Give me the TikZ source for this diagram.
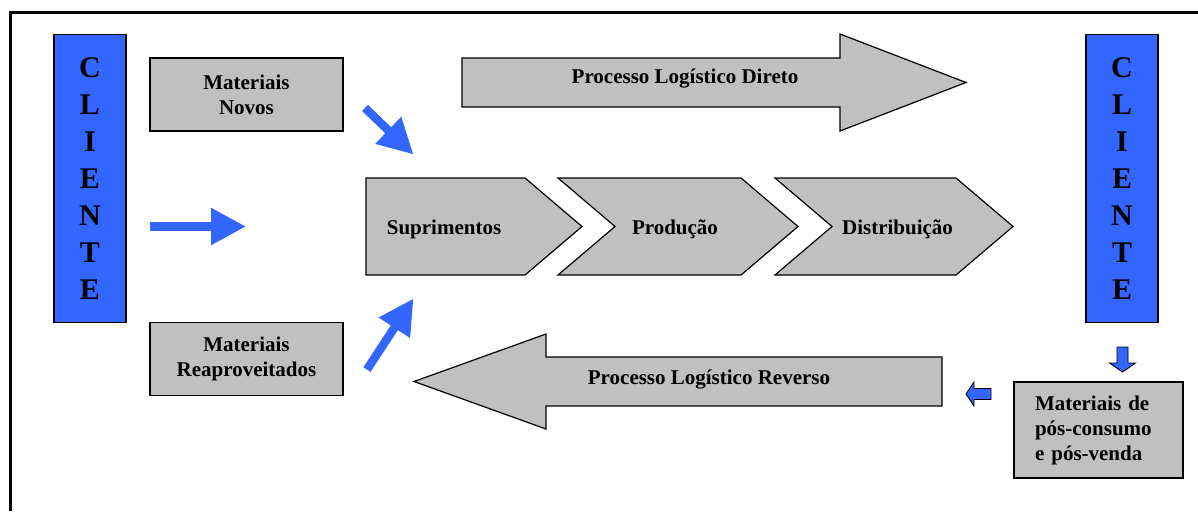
\documentclass[tikz,border=0pt]{standalone}
\usepackage{fontspec}
\setmainfont{Liberation Serif}
\usetikzlibrary{arrows.meta}
\definecolor{cliblue}{RGB}{51,102,255}
\definecolor{boxgray}{RGB}{192,192,192}

\begin{document}
\begin{tikzpicture}[
  x=1pt, y=-1pt,
  txt/.style={font=\fontsize{21}{25}\selectfont\bfseries},
  cli/.style={draw, fill=cliblue, line width=1.2pt, minimum width=72pt, minimum height=288pt,
    align=center, inner sep=0pt, font=\fontsize{30}{37}\selectfont\bfseries},
  mat/.style={draw, fill=boxgray, line width=1.2pt, minimum width=193pt, minimum height=73pt,
    align=center, inner sep=2pt, txt},
  gshp/.style={draw, fill=boxgray, line width=1.2pt, line join=miter},
  barr/.style={cliblue, line width=8.5pt, -{Triangle[length=35pt, width=35pt]}},
  sarr/.style={draw=black, fill=cliblue, line width=0.9pt}
]
\useasboundingbox (0,0) rectangle (1198,511);
\draw[line width=3pt] (10.5,511) -- (10.5,12.5) -- (1198,12.5);

% clientes
\node[cli] (cliL) at (90,178.5) {C\\L\\I\\E\\N\\T\\E};
\node[cli] (cliR) at (1122,178.5) {C\\L\\I\\E\\N\\T\\E};

% materiais
\node[mat] (novos) at (246.5,94.5) {Materiais\\Novos};
\node[mat] (reap) at (246.5,359) {Materiais\\Reaproveitados};
\node[draw, fill=boxgray, line width=1.2pt, minimum width=169pt, minimum height=96pt,
  text width=127pt, align=left, inner xsep=21pt, txt] (pos) at (1098.5,430)
  {Materiais de\\pós-consumo\\e pós-venda};

% cadeia
\draw[gshp] (366,178) -- (525,178) -- (582,226.5) -- (525,275) -- (366,275) -- cycle;
\draw[gshp] (558,178) -- (741,178) -- (798,226.5) -- (741,275) -- (558,275) -- (615,226.5) -- cycle;
\draw[gshp] (775,178) -- (956,178) -- (1013,226.5) -- (956,275) -- (775,275) -- (832,226.5) -- cycle;
\node[txt, anchor=base] (sup) at (444,234) {Suprimentos};
\node[txt, anchor=base] (prod) at (675,234) {Produção};
\node[txt, anchor=base] (dist) at (897.5,234) {Distribuição};

% fluxos direto e reverso
\draw[gshp] (462,58) -- (840,58) -- (840,34) -- (966,82.5) -- (840,131) -- (840,107) -- (462,107) -- cycle;
\node[txt, anchor=base] (dir) at (685,83.3) {Processo Logístico Direto};
\draw[gshp] (942,357) -- (546,357) -- (546,334) -- (414,381.5) -- (546,429) -- (546,406) -- (942,406) -- cycle;
\node[txt, anchor=base] (rev) at (709,384.5) {Processo Logístico Reverso};

% setas azuis
\coordinate (h0) at (150,226.5);
\coordinate (h1) at (246,226.5);
\coordinate (n0) at (365,108);
\coordinate (n1) at (413.5,154.5);
\coordinate (r0) at (367,369.5);
\coordinate (r1) at (413.5,298.5);
\draw[barr] (h0) -- (h1);
\draw[barr] (n0) -- (n1);
\draw[barr] (r0) -- (r1);

\draw[sarr] (1117,347) -- (1128,347) -- (1128,363) -- (1135.5,363) -- (1122.5,372) -- (1109.5,363) -- (1117,363) -- cycle;
\draw[sarr] (991,388.5) -- (974,388.5) -- (974,382) -- (966,394) -- (974,406) -- (974,399.5) -- (991,399.5) -- cycle;
\end{tikzpicture}
\end{document}
